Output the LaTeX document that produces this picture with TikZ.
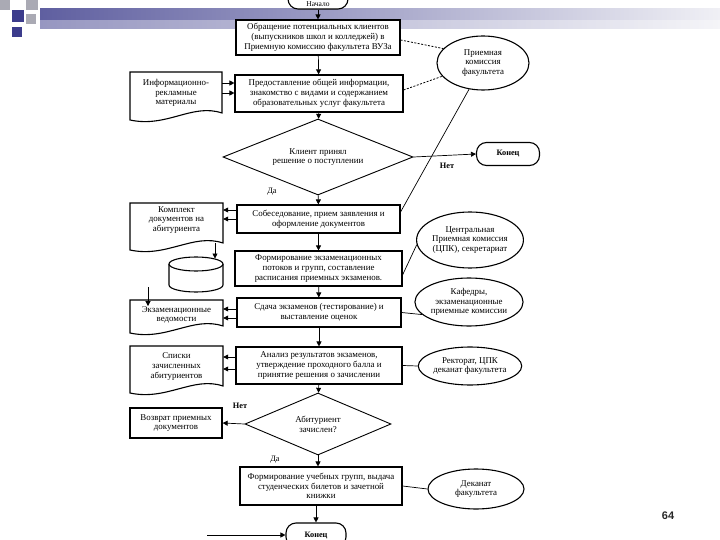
\documentclass[tikz,border=0pt]{standalone}
\usepackage{fontspec}
\setmainfont{Liberation Serif}
\setsansfont{Liberation Sans}
\usetikzlibrary{arrows.meta,shapes.geometric,calc}
\definecolor{barblue}{RGB}{95,95,160}
\definecolor{barend}{RGB}{240,240,245}
\definecolor{sqgray}{RGB}{170,170,180}
\definecolor{sqblue}{RGB}{60,60,140}
\definecolor{pagenum}{RGB}{40,40,40}
\newcommand{\docoutline}[4]{%
  \draw[line width=1.1pt, fill=white] (#1,#2) -- (#3,#2) -- (#3,#4-9)
    .. controls (#3-30,#4-19) and (#1+37,#4+6) .. (#1,#4-2) -- cycle;}
\begin{document}
\begin{tikzpicture}[x=1pt,y=-1pt,
  txt/.style={font=\fontsize{8.9}{9.8}\selectfont},
  box/.style={draw, line width=1.1pt, fill=white, align=center, inner sep=1pt, txt},
  ell/.style={ellipse, draw, line width=1.1pt, fill=white, align=center, inner sep=0pt, txt},
  dia/.style={diamond, draw, line width=0.9pt, fill=white, aspect=2.4, inner sep=0pt, align=center, txt},
  term/.style={draw, line width=1.1pt, fill=white, rounded corners=10pt, inner sep=0pt, font=\bfseries\fontsize{8.3}{9}\selectfont},
  doct/.style={align=center, inner sep=0pt, txt},
  arr/.style={-{Triangle[length=5pt,width=5pt]}, line width=0.7pt},
  ln/.style={line width=0.7pt},
  dashlink/.style={line width=0.8pt, dash pattern=on 2pt off 1.5pt},
  lab/.style={font=\fontsize{8.3}{9}\selectfont, inner sep=0pt}]
\useasboundingbox (0,0) rectangle (720,540);
\fill[white] (0,0) rectangle (720,540);
% decorations
\shade[left color=barblue, right color=barend] (40,9) rectangle (720,29);
\fill[white, opacity=0.35] (40,20) rectangle (720,29);
\fill[sqgray] (0,0) rectangle (10,10);
\fill[sqblue] (12,10) rectangle (24,22);
\fill[sqgray] (26,0) rectangle (38,10);
\fill[sqgray] (26,14) rectangle (36,24);
\fill[sqblue] (12,27) rectangle (22,37);

% main column
\node[term, minimum width=60, minimum height=24] (start) at (318,-3) {};
\node[inner sep=0pt, font=\fontsize{7.5}{8}\selectfont] (startt) at (318,3.8) {Начало};
\node[box, minimum width=164, minimum height=35] (box1) at (318,37.5)
  {Обращение потенциальных клиентов\\(выпускников школ и колледжей) в\\Приемную комиссию факультета ВУЗа};
\node[box, minimum width=168, minimum height=37] (box2) at (319,93.5)
  {Предоставление общей информации,\\знакомство с видами и содержанием\\образовательных услуг факультета};
\node[dia, minimum width=190, minimum height=76] (dia1) at (318,157)
  {Клиент принял\\решение о поступлении};
\node[term, minimum width=63, minimum height=23] (end1) at (508,154) {Конец};
\node[box, minimum width=163, minimum height=28] (box3) at (318.5,219)
  {Собеседование, прием заявления и\\оформление документов};
\node[box, minimum width=167, minimum height=35] (box4) at (318.5,268.5)
  {Формирование экзаменационных\\потоков и групп, составление\\расписания приемных экзаменов.};
\node[box, minimum width=164, minimum height=29] (box5) at (319,312.5)
  {Сдача экзаменов (тестирование) и\\выставление оценок};
\node[box, minimum width=166, minimum height=37] (box6) at (319,365.5)
  {Анализ результатов экзаменов,\\утверждение проходного балла и\\принятие решения о зачислении};
\node[dia, minimum width=146, minimum height=62] (dia2) at (318,424)
  {Абитуриент\\зачислен?};
\node[box, minimum width=162, minimum height=38] (box7) at (321,486)
  {Формирование учебных групп, выдача\\студенческих билетов и зачетной\\книжки};
\node[term, minimum width=60, minimum height=24] (end2) at (316,535) {Конец};

% left column
\docoutline{130}{72}{222}{122}
\node[doct, minimum width=92] (doc1) at (176,93) {Информационно-\\рекламные\\материалы};
\docoutline{130}{203}{223}{252}
\node[doct, minimum width=93] (doc2) at (176.5,220) {Комплект\\документов на\\абитуриента};
% database cylinder
\node[inner sep=0pt, minimum width=54, minimum height=35] (db) at (196,274.5) {};
\fill[white] (169,264) -- (169,285) arc[start angle=180, end angle=0, x radius=27, y radius=7] -- (223,264) -- cycle;
\draw[line width=1.1pt] (169,264) -- (169,285) arc[start angle=180, end angle=0, x radius=27, y radius=7] -- (223,264);
\draw[line width=1.1pt, fill=white] (196,264) ellipse [x radius=27, y radius=7];
\docoutline{130}{300}{223}{335}
\node[doct, minimum width=93] (doc3) at (176.5,315) {Экзаменационные\\ведомости};
\docoutline{130}{346}{223}{395}
\node[doct, minimum width=93] (doc4) at (176.5,366.5) {Списки\\зачисленных\\абитуриентов};
\node[box, line width=1.3pt, minimum width=92, minimum height=30] (vozv) at (176,423)
  {Возврат приемных\\документов};

% right column
\node[ell, minimum width=92, minimum height=54] (ell1) at (483,63) {Приемная\\комиссия\\факультета};
\node[ell, minimum width=106, minimum height=56] (ell2) at (470,240) {Центральная\\Приемная комиссия\\(ЦПК), секретариат};
\node[ell, minimum width=102, minimum height=48] (ell3) at (469,302) {Кафедры,\\экзаменационные\\приемные комиссии};
\node[ell, minimum width=100, minimum height=38] (ell4) at (470,366) {Ректорат, ЦПК\\деканат факультета};
\node[ell, minimum width=96, minimum height=40] (ell5) at (476,489) {Деканат\\факультета};

% helper levels
\coordinate (y40) at (0,40); \coordinate (y90) at (0,90); \coordinate (y212) at (0,212);
\coordinate (y83) at (0,83); \coordinate (y93) at (0,93);
\coordinate (y210) at (0,210); \coordinate (y219) at (0,219);
\coordinate (y275) at (0,275);
\coordinate (y309) at (0,309); \coordinate (y318) at (0,318);
\coordinate (y357) at (0,357); \coordinate (y369) at (0,369);
\coordinate (w2a) at (215,243); \coordinate (dbtop) at (215,258.5);
\coordinate (stub) at (148,287);
\coordinate (botfree) at (207,535);

% main flow
\draw[arr] (start) -- (box1);
\draw[arr] (box1) -- (box2);
\draw[arr] (box2) -- (dia1);
\draw[arr] (dia1) -- (box3);
\draw[arr] (box3) -- (box4);
\draw[arr] (box4) -- (box5);
\draw[arr] (box5) -- (box6);
\draw[arr] (box6) -- (dia2);
\draw[arr] (dia2.south) -- (dia2.south |- box7.north);
\draw[arr] (box7.south -| end2.north) -- (end2.north);
\draw[arr] (dia1.east) -- (end1.west);
\draw[arr] (dia2.west) -- (vozv.east);
\draw[arr] (botfree) -- (end2.west);
\node[lab, font=\bfseries\fontsize{8.3}{9}\selectfont] (no1) at (447,166) {Нет};
\node[lab] (yes1) at (272,192) {Да};
\node[lab, font=\bfseries\fontsize{8.3}{9}\selectfont] (no2) at (240,406) {Нет};
\node[lab] (yes2) at (275,460) {Да};

% documents
\draw[arr] (doc1.east |- y83) -- (box2.west |- y83);
\draw[arr] (doc1.east |- y93) -- (box2.west |- y93);
\draw[arr] (box3.west |- y210) -- (doc2.east |- y210);
\draw[arr] (box3.west |- y219) -- (doc2.east |- y219);
\draw[arr] (box5.west |- y309) -- (doc3.east |- y309);
\draw[arr] (box5.west |- y318) -- (doc3.east |- y318);
\draw[arr] (box6.west |- y357) -- (doc4.east |- y357);
\draw[arr] (box6.west |- y369) -- (doc4.east |- y369);
\draw[arr] (w2a) -- (dbtop);
\draw[arr] (stub) -- (doc3.north -| stub);

% ellipse links
\draw[dashlink] (box1.east |- y40) -- (ell1.160);
\draw[dashlink] (box2.east |- y90) -- (ell1.198);
\draw[ln] (ell1.242) -- (box3.east |- y212);
\draw[ln] (ell2.185) -- (box4.east |- y275);
\draw[ln] (box5.east) -- (ell3.195);
\draw[ln] (box6.east) -- (ell4.west);
\draw[ln] (box7.east) -- (ell5.west);

\node[font=\sffamily\bfseries\fontsize{11}{13}\selectfont, text=pagenum] (pg) at (668,516) {64};
\end{tikzpicture}
\end{document}
